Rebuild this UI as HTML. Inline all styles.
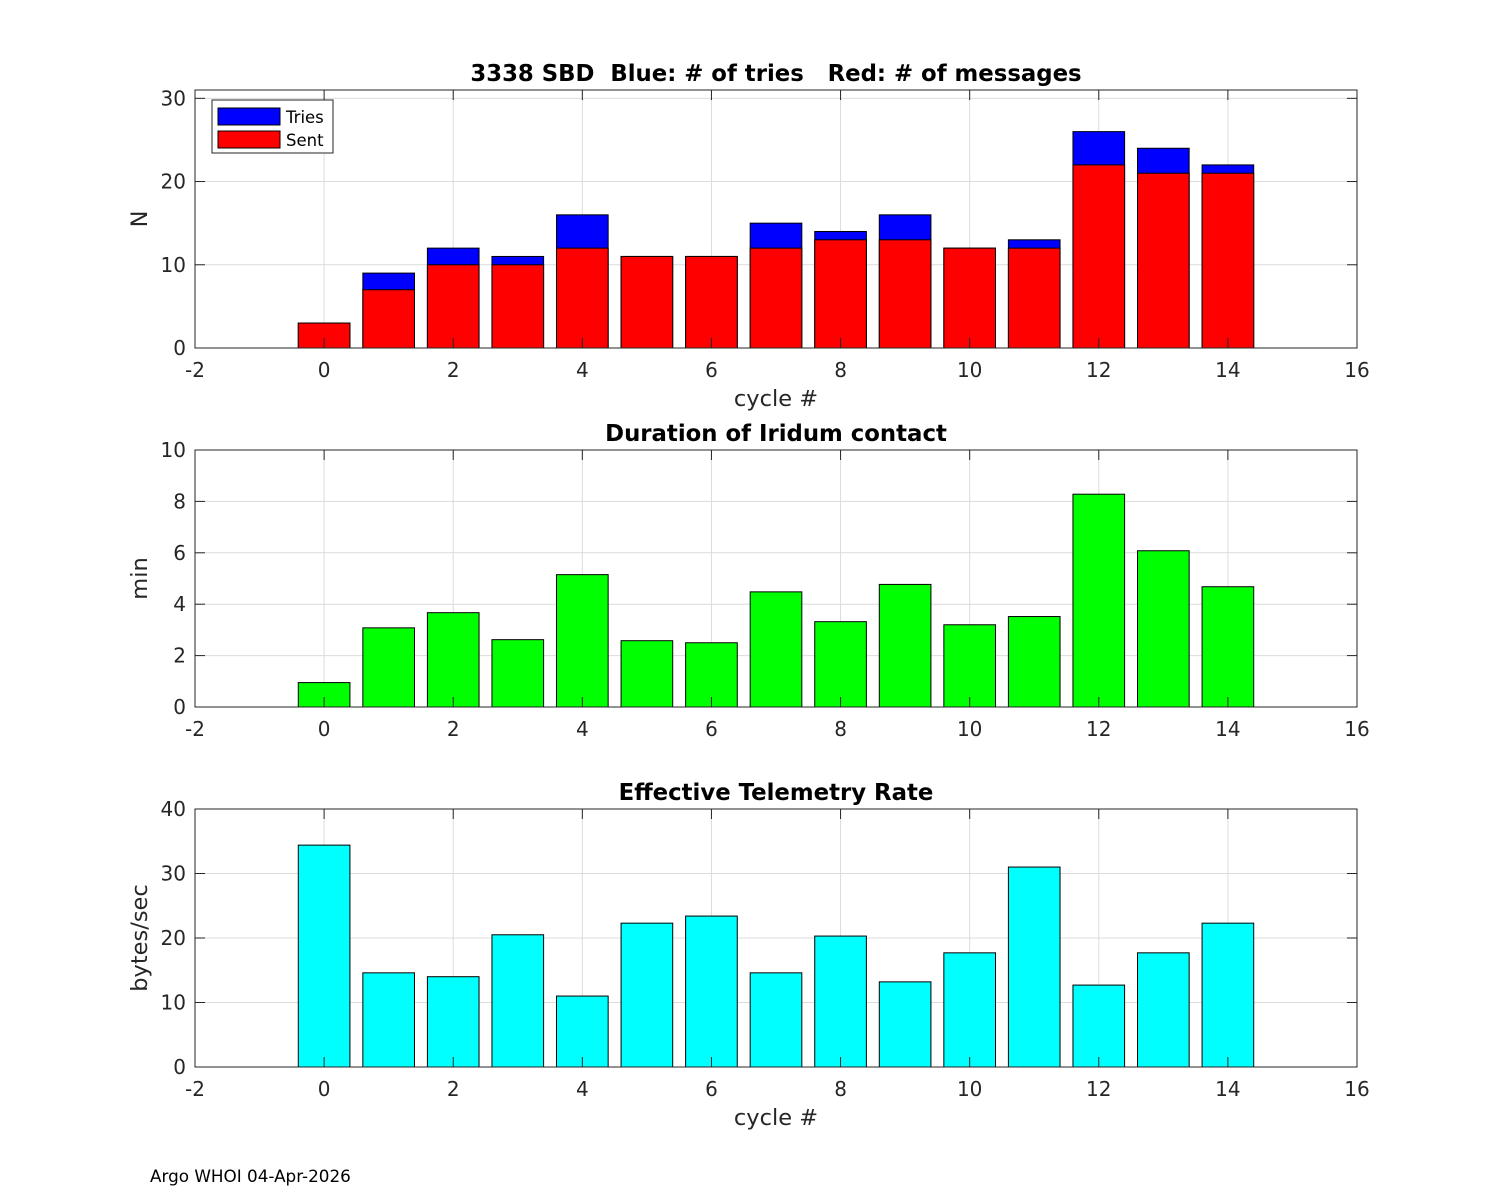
<!DOCTYPE html>
<html><head><meta charset="utf-8"><style>
body{margin:0;background:#fff;}
svg{display:block;font-family:"DejaVu Sans","Liberation Sans",sans-serif;}
text{white-space:pre;}
</style></head><body>
<svg id="fig" width="1500" height="1200" viewBox="0 0 1500 1200" xmlns="http://www.w3.org/2000/svg">
<rect width="1500" height="1200" fill="#fff"/>
<text x="150" y="1182" font-size="16.8" fill="#000">Argo WHOI 04-Apr-2026</text>
</svg>
<script>
const cycles=[0,1,2,3,4,5,6,7,8,9,10,11,12,13,14];
const tries=[3,9,12,11,16,11,11,15,14,16,12,13,26,24,22];
const sent=[3,7,10,10,12,11,11,12,13,13,12,12,22,21,21];
const duration=[0.95,3.08,3.67,2.62,5.15,2.58,2.5,4.48,3.32,4.77,3.2,3.52,8.28,6.08,4.68];
const rate=[34.4,14.6,14.0,20.5,11.0,22.3,23.4,14.6,20.3,13.2,17.7,31.0,12.7,17.7,22.3];
const xTicks=[-2,0,2,4,6,8,10,12,14,16];
const NS='http://www.w3.org/2000/svg';
const svg=document.getElementById('fig');
function mk(tag,attrs,parent,txt){const e=document.createElementNS(NS,tag);for(const k in attrs)e.setAttribute(k,attrs[k]);if(txt!==undefined)e.textContent=txt;(parent||svg).appendChild(e);return e;}
const L=195,R=1357,xmin=-2,xmax=16;
const xs=v=>L+(v-xmin)/(xmax-xmin)*(R-L);
function panel(name,top,bot,ymax,yTicks,ylabel,title,xlabel){
  const g=mk('g',{});
  
  
  const ys=v=>bot-v/ymax*(bot-top);
  mk('rect',{x:L,y:top,width:R-L,height:bot-top,fill:'#fff'},g);
  xTicks.forEach(t=>{const l=mk('line',{x1:xs(t),x2:xs(t),y1:top,y2:bot,stroke:'#dcdcdc','stroke-width':1},g);});
  yTicks.forEach(t=>{const l=mk('line',{x1:L,x2:R,y1:ys(t),y2:ys(t),stroke:'#dcdcdc','stroke-width':1},g);});
  return {g,ys,finish:()=>{
    mk('rect',{x:L,y:top,width:R-L,height:bot-top,fill:'none',stroke:'#262626','stroke-width':1},g);
    xTicks.forEach(t=>{
      mk('line',{x1:xs(t),x2:xs(t),y1:bot,y2:bot-10,stroke:'#262626'},g);
      mk('line',{x1:xs(t),x2:xs(t),y1:top,y2:top+10,stroke:'#262626'},g);
      const tx=mk('text',{x:xs(t),y:bot+29,'font-size':20,'text-anchor':'middle',fill:'#262626'},g,String(t));
      
    });
    yTicks.forEach(t=>{
      mk('line',{x1:L,x2:L+10,y1:ys(t),y2:ys(t),stroke:'#262626'},g);
      mk('line',{x1:R,x2:R-10,y1:ys(t),y2:ys(t),stroke:'#262626'},g);
      const tx=mk('text',{x:L-9,y:ys(t)+7,'font-size':20,'text-anchor':'end',fill:'#262626'},g,String(t));
      
    });
    const yl=mk('text',{x:0,y:0,'font-size':22.5,'text-anchor':'middle',fill:'#262626',transform:`translate(147,${(top+bot)/2}) rotate(-90)`},g,ylabel);
    
    const tt=mk('text',{x:(L+R)/2,y:top-9,'font-size':22.8,'font-weight':'bold','text-anchor':'middle',fill:'#000'},g,title);
    
    if(xlabel){const xl=mk('text',{x:(L+R)/2,y:bot+58,'font-size':22.5,'text-anchor':'middle',fill:'#262626'},g,xlabel);
      }
  }};
}
const bw=0.8;
function bars(p,vals,color,nm){
  vals.forEach((v,i)=>{
    const x0=xs(cycles[i]-bw/2),x1=xs(cycles[i]+bw/2);
    const r=mk('rect',{x:x0,y:p.ys(v),width:x1-x0,height:p.ys(0)-p.ys(v),fill:color,stroke:'#000','stroke-width':1},p.g);
    
    
  });
}
const p1=panel('messages',90,348,31,[0,10,20,30],'N','3338 SBD  Blue: # of tries   Red: # of messages','cycle #');
bars(p1,tries,'#0000ff','tries');
bars(p1,sent,'#ff0000','sent');
p1.finish();
const lg=mk('g',{});


mk('rect',{x:212,y:100,width:121,height:53,fill:'#fff',stroke:'#262626'},lg);
mk('rect',{x:218,y:108,width:62,height:17,fill:'#0000ff',stroke:'#000'},lg);
mk('rect',{x:218,y:131,width:62,height:17,fill:'#ff0000',stroke:'#000'},lg);
const l1=mk('text',{x:286,y:123,'font-size':16.5,fill:'#000'},lg,'Tries');

const l2=mk('text',{x:286,y:146,'font-size':16.5,fill:'#000'},lg,'Sent');

const p2=panel('duration',450,707,10,[0,2,4,6,8,10],'min','Duration of Iridum contact',null);
bars(p2,duration,'#00ff00','duration');
p2.finish();
const p3=panel('rate',809,1067,40,[0,10,20,30,40],'bytes/sec','Effective Telemetry Rate','cycle #');
bars(p3,rate,'#00ffff','rate');
p3.finish();
</script>
</body></html>
